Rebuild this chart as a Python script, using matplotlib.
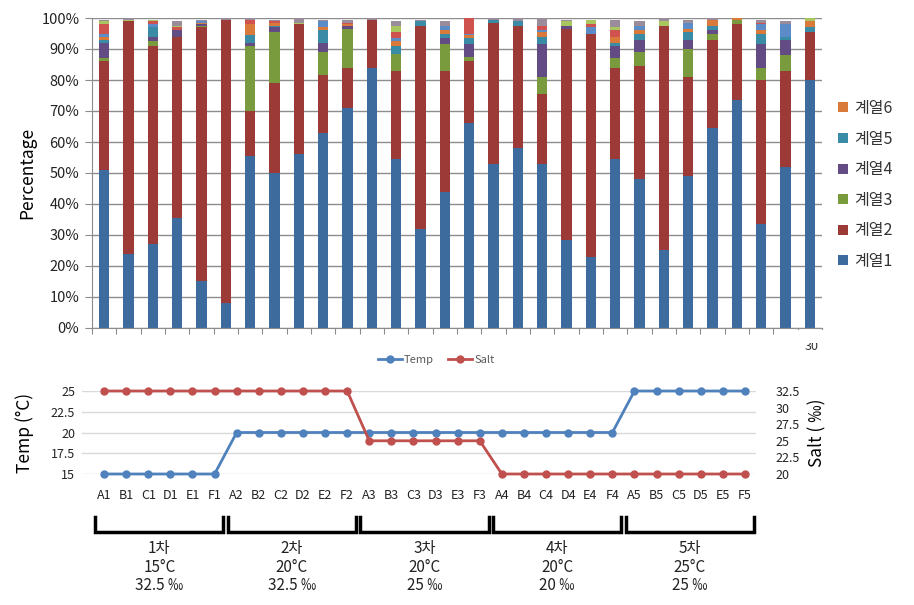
import numpy as np
import matplotlib
matplotlib.use("Agg")
from matplotlib import pyplot as plt
from matplotlib.patches import Rectangle
from matplotlib.lines import Line2D
from matplotlib.transforms import blended_transform_factory

plt.rcParams['font.family'] = ['Noto Sans CJK KR', 'DejaVu Sans']

# stacked bar data (percent), one value per sample
s1 = [51, 24, 27, 35.5, 15, 8, 55.5, 50, 56, 63, 71, 84, 54.5, 32, 44,
      66, 53, 58, 53, 28.5, 23, 54.5, 48, 25, 49, 64.5, 73.5, 33.5, 52, 80]
s2 = [35, 75, 64, 58.5, 82, 91.5, 14.5, 29, 42, 18.5, 13, 15.5, 28.5, 65.5, 39,
      20, 45.5, 39.5, 22.5, 68, 72, 29.5, 36.5, 72.5, 32, 28.5, 24.5, 46.5, 31, 15.5]
s3 = [1, 0, 1.5, 0, 0.5, 0, 21, 16.5, 0, 7.5, 12.5, 0, 5.5, 0, 8.5,
      1.5, 0, 0, 5.5, 0, 0, 3, 4.5, 0, 9, 2, 1.5, 4, 5, 0]
s4 = [5, 0, 1.5, 2, 0.5, 0, 1, 1.5, 0, 3, 1, 0, 0, 0, 2,
      4, 0, 0, 10.5, 1, 0, 4, 4, 0, 3, 1, 0, 7.5, 5, 0]
s5 = [1, 0, 3, 0, 0, 0, 2.5, 0.5, 0, 4, 0, 0, 2.5, 1.5, 1.5,
      2, 1, 1.5, 2.5, 0, 0, 1, 2, 0, 2.5, 1.5, 0, 3.5, 1, 1.5]
s6 = [1, 0, 0, 0, 0.5, 0, 3.5, 1, 0, 1, 0.5, 0, 1.5, 0, 1,
      1, 0, 0, 1.5, 0, 0, 2, 1, 0, 1, 2, 0.5, 1, 0, 2]
s7 = [1, 0, 1, 0, 0.5, 0, 0, 0, 0, 2, 0, 0, 1, 0, 1.5,
      0.5, 0, 0, 0.5, 0, 2, 0, 1.5, 0, 2, 0, 0, 2, 4, 0]
s8 = [3, 0, 1, 1, 0, 0, 1.5, 0.5, 0, 0, 0.5, 0, 2, 0, 0,
      5, 0, 0, 1.5, 0, 1, 2, 0, 0, 0, 0, 0, 0.5, 0, 0]
s9 = [1, 0.5, 0.5, 0.5, 0, 0, 0, 0, 0.5, 0, 0, 0, 2, 0, 0,
      0, 0, 0, 0, 1.5, 1.5, 1, 0, 1.5, 0, 0, 0, 0, 0, 1]
s10 = [0.5, 0.5, 0, 1.5, 0.5, 0.5, 0.5, 0.5, 1.5, 0.5, 1, 0.5, 1.5, 0.5, 1.5,
       0, 0.5, 1, 2.5, 0.5, 0, 2.5, 1.5, 1, 1, 0.5, 0, 1, 1, 0]

bar_series = [s1, s2, s3, s4, s5, s6, s7, s8, s9, s10]
bar_colors = ['#3D6B9D', '#9C3A38', '#7A9A3E', '#634B84', '#3A8BA5', '#D9793A',
              '#5B8CC8', '#CF524F', '#A9C55F', '#9A8C9A']
legend_names = ['계열1', '계열2', '계열3', '계열4', '계열5', '계열6']

# environmental conditions
samples = ['A1', 'B1', 'C1', 'D1', 'E1', 'F1', 'A2', 'B2', 'C2', 'D2', 'E2', 'F2',
           'A3', 'B3', 'C3', 'D3', 'E3', 'F3', 'A4', 'B4', 'C4', 'D4', 'E4', 'F4',
           'A5', 'B5', 'C5', 'D5', 'E5', 'F5']
temp = [15, 15, 15, 15, 15, 15, 20, 20, 20, 20, 20, 20, 20, 20, 20,
        20, 20, 20, 20, 20, 20, 20, 20, 20, 25, 25, 25, 25, 25, 25]
salt = [32.5, 32.5, 32.5, 32.5, 32.5, 32.5, 32.5, 32.5, 32.5, 32.5, 32.5, 32.5,
        25, 25, 25, 25, 25, 25, 20, 20, 20, 20, 20, 20, 20, 20, 20, 20, 20, 20]
group_labels = ['1차\n15°C\n32.5 ‰', '2차\n20°C\n32.5 ‰', '3차\n20°C\n25 ‰',
                '4차\n20°C\n20 ‰', '5차\n25°C\n25 ‰']

W, H = 914, 605
fig = plt.figure(figsize=(W / 100, H / 100), dpi=100)

# ---- top stacked bars ----
ax1 = fig.add_axes([92 / W, 1 - 328 / H, 730 / W, 310 / H])
x = np.arange(len(s1))
bottom = np.zeros(len(s1))
handles = []
for vals, col in zip(bar_series, bar_colors):
    b = ax1.bar(x, vals, width=0.42, bottom=bottom, color=col, zorder=2)
    handles.append(b)
    bottom += np.array(vals)

ax1.set_xlim(-0.5, len(s1) - 0.5)
ax1.set_ylim(0, 100)
ax1.set_yticks(np.arange(0, 101, 10))
ax1.set_yticklabels([f'{v}%' for v in range(0, 101, 10)], fontsize=10.5, color='#222222')
ax1.yaxis.grid(True, color='#8C8C8C', lw=1, zorder=0)
ax1.set_xticks(np.arange(-0.5, len(s1), 1))
ax1.set_xticklabels([])
ax1.tick_params(axis='x', length=4, color='#8C8C8C', direction='out')
ax1.tick_params(axis='y', length=5, color='#8C8C8C', direction='out', pad=4)
for sp in ['top', 'right']:
    ax1.spines[sp].set_visible(False)
for sp in ['left', 'bottom']:
    ax1.spines[sp].set_color('#8C8C8C')
ax1.set_ylabel('Percentage', fontsize=12.5, labelpad=4)

leg = fig.legend(handles[:6][::-1], legend_names[::-1], loc='center left',
                 bbox_to_anchor=(824 / W, 1 - 185 / H), frameon=False,
                 prop={'size': 11.5, 'style': 'italic'}, handlelength=0.6,
                 handleheight=0.6, handletextpad=0.4, labelspacing=0.85)
for t in leg.get_texts():
    t.set_color('#333333')

# cut-off "30" label peeking below the top chart
fig.text(812 / W, 1 - 353 / H, '30', fontsize=9, ha='center', va='bottom',
         color='#333333', zorder=3)
fig.patches.append(Rectangle((795 / W, 1 - 343 / H), 40 / W, 13 / H,
                             transform=fig.transFigure, facecolor='white',
                             edgecolor='none', zorder=10))

# ---- lower line chart ----
ax2 = fig.add_axes([82 / W, 1 - 474 / H, 674 / W, 83 / H])
ax3 = ax2.twinx()
xi = np.arange(len(samples))
l1, = ax2.plot(xi, temp, color='#4F81BD', lw=2, marker='o', ms=5, clip_on=False, zorder=3)
l2, = ax3.plot(xi, salt, color='#C0504D', lw=2, marker='o', ms=5, clip_on=False, zorder=3)
ax2.set_xlim(-1.0, 29.5)
ax2.set_ylim(15, 25)
ax3.set_ylim(20, 32.5)
ax2.set_yticks([15, 17.5, 20, 22.5, 25])
ax2.set_yticklabels(['15', '17.5', '20', '22.5', '25'])
ax3.set_yticks([20, 22.5, 25, 27.5, 30, 32.5])
ax3.set_yticklabels(['20', '22.5', '25', '27.5', '30', '32.5'])
ax2.set_xticks(xi)
ax2.set_xticklabels(samples)
ax2.yaxis.grid(True, color='#D9D9D9', lw=1)
ax2.set_axisbelow(True)
ax2.tick_params(axis='x', length=0, pad=11, labelsize=9, labelcolor='#222222')
ax2.tick_params(axis='y', length=0, pad=5, labelsize=9, labelcolor='#222222')
ax3.tick_params(axis='y', length=0, pad=14, labelsize=9, labelcolor='#222222')
for a in (ax2, ax3):
    for sp in a.spines.values():
        sp.set_visible(False)
ax2.set_ylabel('Temp (°C)', fontsize=12.5, labelpad=12)
ax3.set_ylabel('Salt ( ‰)', fontsize=12.5, labelpad=6)

leg2 = fig.legend([l1, l2], ['Temp', 'Salt'], loc='center',
                  bbox_to_anchor=(436 / W, 1 - 360 / H), ncol=2, frameon=False,
                  fontsize=8, handlelength=2.2, columnspacing=1.2, handletextpad=0.2)
for t in leg2.get_texts():
    t.set_color('#595959')

# group brackets below the sample labels
trans = blended_transform_factory(ax2.transData, fig.transFigure)
y_top, y_bot = 1 - 517 / H, 1 - 532 / H
for g, lab in enumerate(group_labels):
    x0, x1 = g * 6 - 0.4, g * 6 + 5.4
    fig.add_artist(Line2D([x0, x0, x1, x1], [y_top, y_bot, y_bot, y_top],
                          transform=trans, color='black', lw=2.5,
                          solid_joinstyle='miter'))
    fig.text((x0 + x1) / 2, 1 - 567 / H, lab, transform=trans, ha='center',
             va='center', fontsize=11, linespacing=1.15, color='#222222')

fig.savefig('out.png', dpi=100)
